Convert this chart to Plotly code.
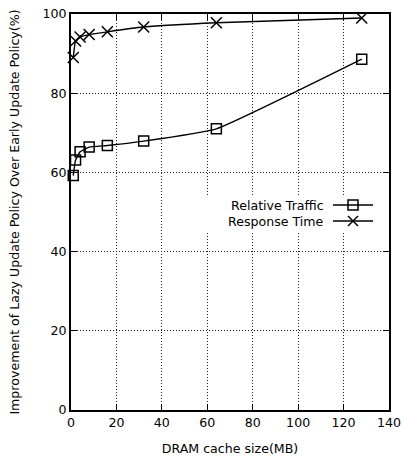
import plotly.graph_objects as go

cache_mb = [1, 2, 4, 8, 16, 32, 64, 128]
relative_traffic = [59.2, 63.1, 65.2, 66.4, 66.8, 67.9, 71.0, 88.6]
response_time = [89.0, 93.2, 94.2, 94.8, 95.5, 96.7, 97.8, 99.0]
x_ticks = [0, 20, 40, 60, 80, 100, 120, 140]
y_ticks = [0, 20, 40, 60, 80, 100]
series_names = ["Relative Traffic", "Response Time"]

FONT = "DejaVu Sans"
FS = 12.6
W, H = 404, 461
L, R, T, B = 71, 15, 14, 51
PW, PH = W - L - R, H - T - B


def px(xp):
    return (xp - L) / PW


def py(yp):
    return (H - B - yp) / PH


fig = go.Figure()
fig.add_trace(go.Scatter(
    x=cache_mb, y=relative_traffic, name=series_names[0], mode="lines+markers",
    line=dict(color="black", width=1.4, shape="spline", smoothing=0.35),
    marker=dict(symbol="square-open", size=10, color="black", line=dict(width=1.5, color="black")),
    showlegend=False, cliponaxis=False,
))
fig.add_trace(go.Scatter(
    x=cache_mb, y=response_time, name=series_names[1], mode="lines+markers",
    line=dict(color="black", width=1.4, shape="spline", smoothing=0.35),
    marker=dict(symbol="x-thin-open", size=11, color="black", line=dict(width=1.5, color="black")),
    showlegend=False, cliponaxis=False,
))

axis_common = dict(
    showline=True, linecolor="black", linewidth=2, mirror="ticks",
    ticks="inside", ticklen=6, tickwidth=1, tickcolor="black",
    showgrid=True, gridcolor="#222", gridwidth=1, griddash="1px,2px",
    zeroline=False, automargin=False, tickfont=dict(family=FONT, size=FS, color="black"),
)

fig.update_xaxes(range=[0, 140], tickvals=x_ticks, ticktext=[str(v) for v in x_ticks],
                 title=dict(text="DRAM cache size(MB)", font=dict(family=FONT, size=FS, color="black"), standoff=15),
                 **axis_common)
fig.update_yaxes(range=[0, 100], tickvals=y_ticks, ticktext=[str(v) for v in y_ticks],
                 title=dict(text="Improvement of Lazy Update Policy Over Early Update Policy(%)",
                            font=dict(family=FONT, size=FS, color="black"), standoff=20),
                 **axis_common)

# manual gnuplot-style legend (text left, sample right)
shapes = [dict(type="rect", xref="paper", yref="paper", x0=px(200), x1=px(378), y0=py(233), y1=py(197),
               fillcolor="white", line=dict(width=0), layer="above")]
annotations = []
rows = [205, 221]
for name, yc, kind in zip(series_names, rows, ["square", "x"]):
    annotations.append(dict(xref="paper", yref="paper", x=px(326), y=py(yc), xanchor="right", yanchor="middle",
                            text=name, showarrow=False, font=dict(family=FONT, size=FS, color="black")))
    shapes.append(dict(type="line", xref="paper", yref="paper", x0=px(333), x1=px(373), y0=py(yc), y1=py(yc),
                       line=dict(color="black", width=1.4), layer="above"))
    if kind == "square":
        shapes.append(dict(type="rect", xref="paper", yref="paper", x0=px(348), x1=px(358), y0=py(yc + 5), y1=py(yc - 5),
                           fillcolor="rgba(0,0,0,0)", line=dict(color="black", width=1.5), layer="above"))
    else:
        shapes.append(dict(type="line", xref="paper", yref="paper", x0=px(348), x1=px(358), y0=py(yc + 5), y1=py(yc - 5),
                           line=dict(color="black", width=1.5), layer="above"))
        shapes.append(dict(type="line", xref="paper", yref="paper", x0=px(348), x1=px(358), y0=py(yc - 5), y1=py(yc + 5),
                           line=dict(color="black", width=1.5), layer="above"))

fig.update_layout(
    width=W, height=H, margin=dict(l=L, r=R, t=T, b=B, pad=0),
    paper_bgcolor="white", plot_bgcolor="white",
    font=dict(family=FONT, size=FS, color="black"),
    shapes=shapes, annotations=annotations, showlegend=False,
)

fig.write_html("out.html", config={"displayModeBar": False},
               post_script="document.body.style.margin='0';")
